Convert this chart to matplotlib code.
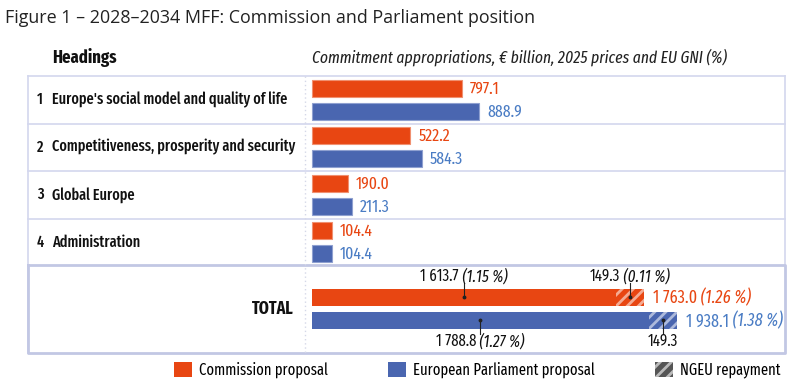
import matplotlib
matplotlib.use("Agg")
import matplotlib.pyplot as plt
from matplotlib.patches import Patch
from matplotlib.transforms import offset_copy

# --- data ---
headings = ["Europe's social model and quality of life",
            "Competitiveness, prosperity and security",
            "Global Europe",
            "Administration"]
commission = [797.1, 522.2, 190.0, 104.4]
parliament = [888.9, 584.3, 211.3, 104.4]
total_base = [1613.7, 1788.8]        # commission, parliament
total_ngeu = [149.3, 149.3]
total_value = [1763.0, 1938.1]
total_base_pct = ["1.15", "1.27"]
total_ngeu_pct = ["0.11", None]
total_pct = ["1.26", "1.38"]

ORANGE = "#E84612"
BLUE = "#4A66B0"
BLUE_TXT = "#4A7CC4"
GRID = "#D3D7EE"
FONT = "Fira Sans Extra Condensed"

plt.rcParams["font.family"] = [FONT, "DejaVu Sans"]
plt.rcParams["hatch.linewidth"] = 2.0

W, H = 799, 392
fig = plt.figure(figsize=(W / 100, H / 100), dpi=100)
renderer = fig.canvas.get_renderer()

# background axes in pixel units for table frame and text
bg = fig.add_axes([0, 0, 1, 1])
bg.set_xlim(0, W)
bg.set_ylim(H, 0)
bg.axis("off")

bg.text(5, 18, "Figure 1 \u2013 2028\u20132034 MFF: Commission and Parliament position",
        fontsize=12.85, family="Open Sans", va="center", ha="left", color="#222222")
bg.text(52, 57, "Headings", fontsize=13, fontweight="bold", va="center", ha="left", color="#111111")
bg.text(312, 57, "Commitment appropriations, \u20ac billion, 2025 prices and EU GNI (%)",
        fontsize=12.2, style="italic", va="center", ha="left", color="#222222")

# table frame
top, left, right, sep_total, bottom, mid = 76, 28, 785, 264.5, 353, 305
row_h = 47.5
bg.plot([left, right], [top, top], color=GRID, lw=1.2)
bg.plot([left, left], [top, bottom], color=GRID, lw=1.2)
bg.plot([right, right], [top, sep_total], color=GRID, lw=1.2)
for i in range(1, 4):
    y = top + row_h * i
    bg.plot([left, right], [y, y], color=GRID, lw=1.2)
# total box
bg.plot([left, right, right, left, left], [sep_total, sep_total, bottom, bottom, sep_total],
        color="#C2C7E4", lw=2)
bg.plot([mid, mid], [top, bottom], color="#D5D8E8", lw=1, ls=(0, (1, 2)))

for i, name in enumerate(headings):
    yc = top + row_h * (i + 0.5)
    bg.text(37, yc, str(i + 1), fontsize=11.2, fontweight="medium", va="center", ha="left", color="#111111")
    bg.text(52, yc, name, fontsize=11.2, fontweight="medium", va="center", ha="left", color="#111111")
bg.text(294, (sep_total + bottom) / 2, "TOTAL", fontsize=12.5, fontweight="bold",
        va="center", ha="right", color="#111111")

# bar axes
k = 0.1882   # pixels per EUR bn
ax = fig.add_axes([mid / W, 1 - bottom / H, (right - mid) / W, (bottom - top) / H])
ax.set_xlim(-7 / k, (right - mid - 7) / k)
ax.set_ylim(bottom, top)
ax.axis("off")

bh = 17
off = 11.5
ys = [top + row_h * (i + 0.5) for i in range(4)]
yc_o = [y - off for y in ys]
yc_b = [y + off for y in ys]
ax.barh(yc_o, commission, height=bh, color=ORANGE, edgecolor="#F09070", linewidth=0.8)
ax.barh(yc_b, parliament, height=bh, color=BLUE, edgecolor="#8FA0D0", linewidth=0.8)
for y, v in zip(yc_o, commission):
    ax.text(v + 8 / k, y + 1, f"{v:.1f}", color=ORANGE, fontsize=12.3, va="center", ha="left")
for y, v in zip(yc_b, parliament):
    ax.text(v + 8 / k, y + 1, f"{v:.1f}", color=BLUE_TXT, fontsize=12.3, va="center", ha="left")


def num(v):
    return f"{v:,.1f}".replace(",", " ")


def label(x, y, v, pct, ha, size, color):
    # regular number followed by italic share of GNI
    t1 = ax.text(x, y, num(v), fontsize=size, color=color, ha="left", va="center")
    parts = [t1]
    if pct:
        t2 = ax.annotate(f" ({pct} %)", xy=(1, 0.5), xycoords=t1, fontsize=size, color=color,
                         style="italic", ha="left", va="center")
        parts.append(t2)
    if ha == "center":
        w = sum(p.get_window_extent(renderer).width for p in parts)
        t1.set_transform(offset_copy(ax.transData, fig=fig, x=-w / 2, units="dots"))


# total
ty = (sep_total + bottom) / 2
ty_o, ty_b = ty - off, ty + off
cols = [ORANGE, BLUE]
txtcols = [ORANGE, BLUE_TXT]
for j, y in enumerate([ty_o, ty_b]):
    ax.barh(y, total_base[j], height=bh, color=cols[j], linewidth=0)
    ax.barh(y, total_ngeu[j], left=total_base[j], height=bh, color=cols[j],
            edgecolor=(1, 1, 1, 0.55), hatch="///", linewidth=0)
    label(total_value[j] + 9 / k, y + 1, total_value[j], total_pct[j], "left", 12.6, txtcols[j])

# callouts: above for commission, below for parliament
for j, y in enumerate([ty_o, ty_b]):
    segs = [(total_base[j] / 2, total_base[j], total_base_pct[j]),
            (total_base[j] + total_ngeu[j] / 2, total_ngeu[j], total_ngeu_pct[j])]
    sgn = -1 if j == 0 else 1
    for xm, v, pct in segs:
        ax.plot([xm, xm], [y, y + sgn * 14], color="#222222", lw=0.8)
        ax.plot(xm, y, marker="o", ms=1.8, color="#222222")
        label(xm, y + sgn * 21, v, pct, "center", 11.7, "#111111")

# legend
handles = [Patch(facecolor=ORANGE, edgecolor="none"),
           Patch(facecolor=BLUE, edgecolor="none"),
           Patch(facecolor="#555555", edgecolor=(1, 1, 1, 0.6), hatch="///", linewidth=0)]
labels = ["Commission proposal", "European Parliament proposal", "NGEU repayment"]
fig.legend(handles, labels, loc="center", bbox_to_anchor=(477 / W, 1 - 370 / H), ncol=3,
           frameon=False, fontsize=11.4, handlelength=1.14, handleheight=1.1,
           handletextpad=0.44, columnspacing=3.8, borderaxespad=0)

fig.savefig("out.png", dpi=100)
